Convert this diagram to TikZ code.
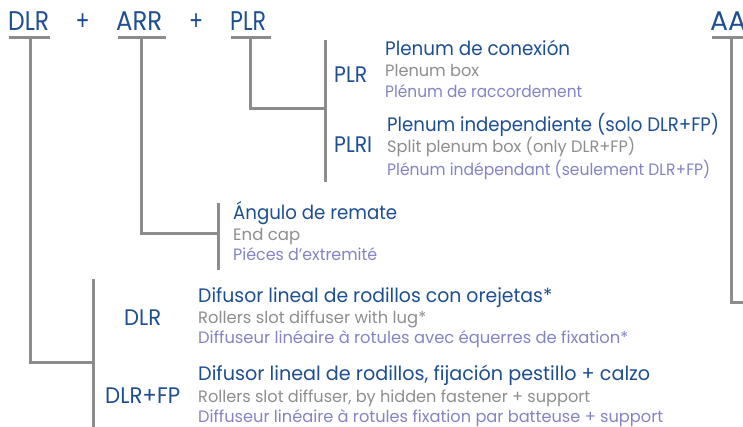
\documentclass[tikz,border=0pt]{standalone}
\usepackage{fontspec}
\usepackage{graphicx}
\setmainfont{Poppins}
\definecolor{tblue}{HTML}{1D4F91}
\definecolor{tgray}{HTML}{8E8E8E}
\definecolor{tpurple}{HTML}{8484C4}
\definecolor{lgray}{HTML}{8C8C8C}
\newcommand{\fw}[2]{\resizebox{#1pt}{\height}{#2}}
\begin{document}
\begin{tikzpicture}[x=1pt,y=-1pt,
  toplbl/.style={anchor=base west,inner sep=0,text=tblue,font=\fontsize{27}{27}\selectfont},
  sidelbl/.style={anchor=base west,inner sep=0,text=tblue,font=\fontsize{22.5}{22.5}\selectfont},
  ttl/.style={anchor=base west,inner sep=0,text=tblue,font=\fontsize{19.5}{19.5}\selectfont},
  sub/.style={anchor=base west,inner sep=0,text=tgray,font=\fontsize{16.5}{16.5}\selectfont},
  fr/.style={anchor=base west,inner sep=0,text=tpurple,font=\fontsize{16.5}{16.5}\selectfont},
  conn/.style={draw=lgray,line width=3pt}]
\useasboundingbox (0,0) rectangle (743,427);
\fill[white] (0,0) rectangle (743,427);
% top labels
\node[toplbl] (tdlr) at (8,31) {\fw{41}{DLR}};
\node[toplbl] (p1) at (75.5,31) {\fw{14}{+}};
\node[toplbl] (tarr) at (116,31) {\fw{46}{ARR}};
\node[toplbl] (p2) at (189,31) {\fw{14}{+}};
\node[toplbl] (tplr) at (230,31) {\fw{36}{PLR}};
\node[toplbl] (taa) at (710,31) {\fw{36}{AA}};
% PLR group
\node[sidelbl] (lplr) at (334,83) {\fw{33}{PLR}};
\node[ttl] (plr1) at (385,56) {\fw{185}{Plenum de conexión}};
\node[sub] (plr2) at (385,77) {\fw{94}{Plenum box}};
\node[fr] (plr3) at (385,98) {\fw{197}{Plénum de raccordement}};
\node[sidelbl] (lplri) at (334,153) {\fw{38}{PLRI}};
\node[ttl] (plri1) at (387,132) {\fw{332}{Plenum independiente (solo DLR+FP)}};
\node[sub] (plri2) at (387,153) {\fw{248}{Split plenum box (only DLR+FP)}};
\node[fr] (plri3) at (387,176) {\fw{323}{Plénum indépendant (seulement DLR+FP)}};
% ARR group
\node[ttl] (arr1) at (233,220) {\fw{164}{Ángulo de remate}};
\node[sub] (arr2) at (233,241) {\fw{67}{End cap}};
\node[fr] (arr3) at (233,260) {\fw{144}{Piéces d’extremité}};
% DLR group
\node[sidelbl] (ldlr) at (124,325) {\fw{37}{DLR}};
\node[ttl] (dlr1) at (198,302) {\fw{354}{Difusor lineal de rodillos con orejetas*}};
\node[sub] (dlr2) at (198,323) {\fw{228}{Rollers slot diffuser with lug*}};
\node[fr] (dlr3) at (198,343) {\fw{430}{Diffuseur linéaire à rotules avec équerres de fixation*}};
\node[sidelbl] (ldlrfp) at (105,403) {\fw{75}{DLR+FP}};
\node[ttl] (fp1) at (198,380) {\fw{452}{Difusor lineal de rodillos, fijación pestillo + calzo}};
\node[sub] (fp2) at (198,402) {\fw{392}{Rollers slot diffuser, by hidden fastener + support}};
\node[fr] (fp3) at (198,422) {\fw{465}{Diffuseur linéaire à rotules fixation par batteuse + support}};
% connectors
\coordinate (dA) at (9,38); \coordinate (dB) at (50,38); \coordinate (dT) at (30,38);
\coordinate (dC) at (30,362); \coordinate (dD) at (93,362);
\coordinate (dU) at (93,279); \coordinate (dL) at (93,427);
\draw[conn] (dA) -- (dB);
\draw[conn] (dT) -- (dC) -- (dD);
\draw[conn] (dU) -- (dL);
\coordinate (aA) at (118,38); \coordinate (aB) at (166,38); \coordinate (aT) at (141,38);
\coordinate (aC) at (141,234); \coordinate (aD) at (218,234);
\coordinate (aU) at (218,203); \coordinate (aL) at (218,270);
\draw[conn] (aA) -- (aB);
\draw[conn] (aT) -- (aC) -- (aD);
\draw[conn] (aU) -- (aL);
\coordinate (pA) at (231,38); \coordinate (pB) at (271,38); \coordinate (pT) at (250,38);
\coordinate (pC) at (250,109); \coordinate (pD) at (325,109);
\coordinate (pU) at (325,40); \coordinate (pL) at (325,182);
\draw[conn] (pA) -- (pB);
\draw[conn] (pT) -- (pC) -- (pD);
\draw[conn] (pU) -- (pL);
\coordinate (xA) at (712,38); \coordinate (xB) at (745,38); \coordinate (xT) at (731,38);
\coordinate (xC) at (731,302); \coordinate (xD) at (745,302);
\draw[conn] (xA) -- (xB);
\draw[conn] (xT) -- (xC) -- (xD);
\end{tikzpicture}
\end{document}
